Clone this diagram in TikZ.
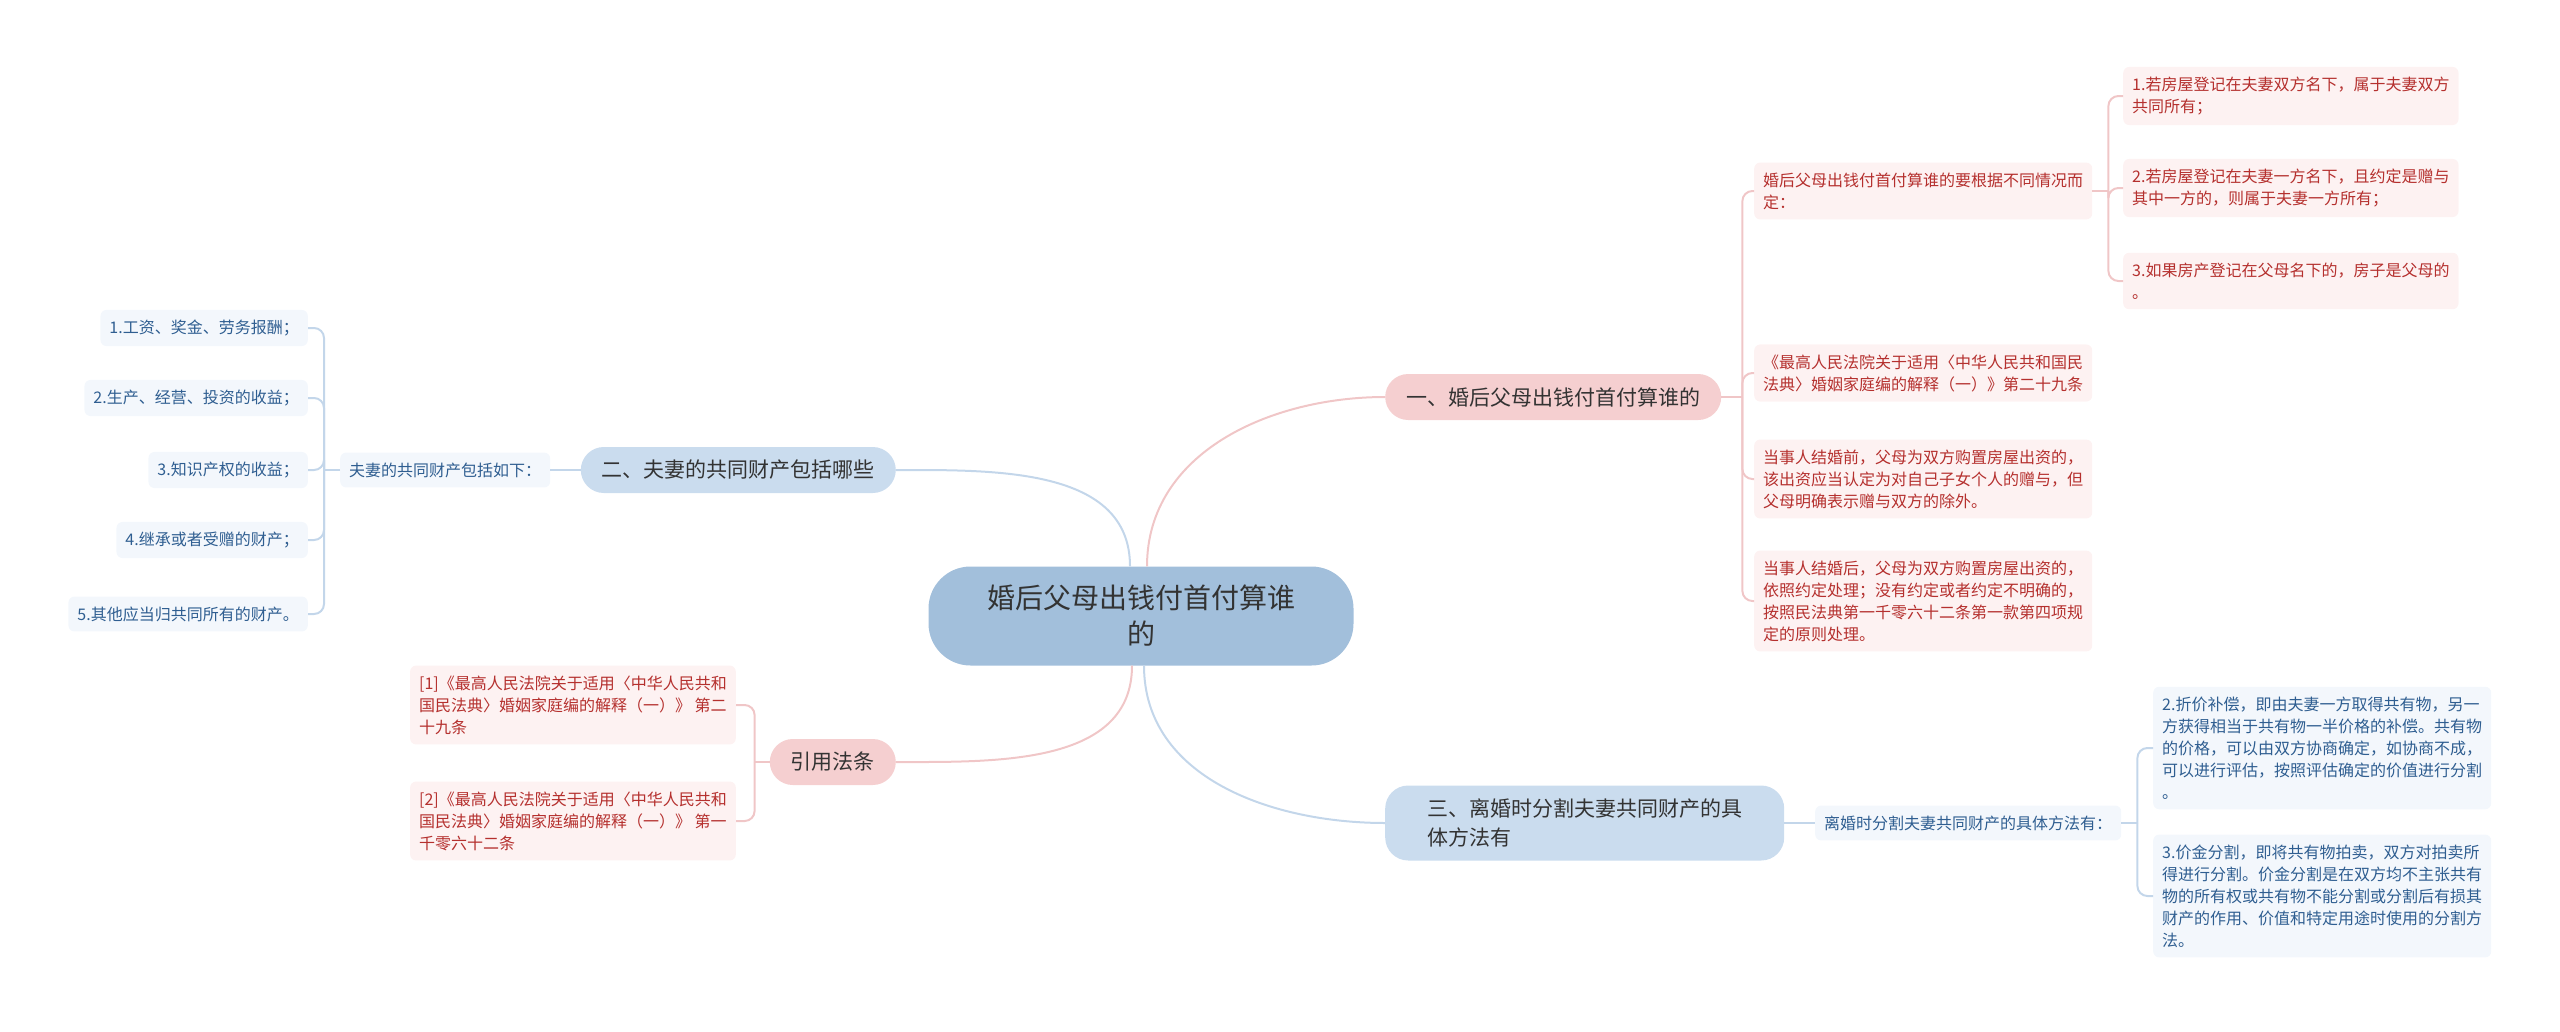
\documentclass[tikz,border=0pt]{standalone}
\usepackage{fontspec}
\setmainfont{Noto Sans CJK SC}
\usetikzlibrary{positioning, calc}
\definecolor{mmRoot}{HTML}{A2BFDB}
\definecolor{mmBlue}{HTML}{CADCEE}
\definecolor{mmPink}{HTML}{F5CFD0}
\definecolor{mmBlueLeaf}{HTML}{F3F7FC}
\definecolor{mmPinkLeaf}{HTML}{FDF2F2}
\definecolor{mmBlueText}{HTML}{2F5E91}
\definecolor{mmPinkText}{HTML}{B5302E}
\definecolor{mmBlueLine}{HTML}{C3D6EA}
\definecolor{mmPinkLine}{HTML}{F0C6C7}
\definecolor{mmInk}{HTML}{333333}
\tikzset{
  mmroot/.style={rounded corners=42pt, fill=mmRoot, text=mmInk, align=center,
    minimum width=425pt, minimum height=99pt, font=\fontsize{28}{36}\selectfont},
  mmbranch/.style={rounded corners=23pt, fill=#1, text=mmInk, align=left,
    inner xsep=21pt, inner ysep=8pt, minimum height=46pt,
    font=\fontsize{21}{29}\selectfont},
  mmleaf/.style={rounded corners=6pt, fill=mm#1Leaf, text=mm#1Text, align=left,
    inner xsep=9pt, inner ysep=10pt, font=\fontsize{16}{22}\selectfont},
  mmedge/.style={line width=2pt, draw=mm#1Line},
  mmfork/.style={line width=2pt, draw=mm#1Line, rounded corners=10pt},
}
\begin{document}
\begin{tikzpicture}[x=1pt, y=1pt]
  \useasboundingbox (0,0) rectangle (2560,-1031);

  % --- Root and main branches ---------------------------------------------
  \node[mmroot] (root) at (1141,-616) {婚后父母出钱付首付算谁\\的};
  \node[mmbranch=mmPink, anchor=west] (b1) at (1385,-397) {一、婚后父母出钱付首付算谁的};
  \node[mmbranch=mmBlue, anchor=east] (b2) at (896,-470) {二、夫妻的共同财产包括哪些};
  \node[mmbranch=mmBlue, anchor=west, inner xsep=42pt, minimum height=75pt]
        (b3) at (1385,-823) {三、离婚时分割夫妻共同财产的具\\体方法有};
  \node[mmbranch=mmPink, anchor=east] (b4) at (896,-762) {引用法条};

  % --- Branch one (right, top) --------------------------------------------
  \node[mmleaf=Pink, anchor=west] (l1a) at (1754,-191)
        {婚后父母出钱付首付算谁的要根据不同情况而\\定：};
  \node[mmleaf=Pink, anchor=west] (l1b) at (1754,-373)
        {《最高人民法院关于适用〈中华人民共和国民\\法典〉婚姻家庭编的解释（一）》第二十九条};
  \node[mmleaf=Pink, anchor=west] (l1c) at (1754,-479)
        {当事人结婚前，父母为双方购置房屋出资的，\\该出资应当认定为对自己子女个人的赠与，但\\父母明确表示赠与双方的除外。};
  \node[mmleaf=Pink, anchor=west] (l1d) at (1754,-601)
        {当事人结婚后，父母为双方购置房屋出资的，\\依照约定处理；没有约定或者约定不明确的，\\按照民法典第一千零六十二条第一款第四项规\\定的原则处理。};

  % cases listed under the first leaf
  \node[mmleaf=Pink, anchor=west] (l3a) at (2123,-96)
        {1.若房屋登记在夫妻双方名下，属于夫妻双方\\共同所有；};
  \node[mmleaf=Pink, anchor=west] (l3b) at (2123,-188)
        {2.若房屋登记在夫妻一方名下，且约定是赠与\\其中一方的，则属于夫妻一方所有；};
  \node[mmleaf=Pink, anchor=west] (l3c) at (2123,-281)
        {3.如果房产登记在父母名下的，房子是父母的\\。};

  % --- Branch two (left, top) ---------------------------------------------
  \node[mmleaf=Blue, anchor=west] (m2) at (340,-470) {夫妻的共同财产包括如下：};
  \node[mmleaf=Blue, anchor=east] (p1) at (308,-328) {1.工资、奖金、劳务报酬；};
  \node[mmleaf=Blue, anchor=east] (p2) at (308,-398) {2.生产、经营、投资的收益；};
  \node[mmleaf=Blue, anchor=east] (p3) at (308,-470) {3.知识产权的收益；};
  \node[mmleaf=Blue, anchor=east] (p4) at (308,-540) {4.继承或者受赠的财产；};
  \node[mmleaf=Blue, anchor=east] (p5) at (308,-614) {5.其他应当归共同所有的财产。};

  % --- Branch three (right, bottom) ---------------------------------------
  \node[mmleaf=Blue, anchor=west] (m3) at (1815,-823) {离婚时分割夫妻共同财产的具体方法有：};
  \node[mmleaf=Blue, anchor=west] (n1) at (2153,-748)
        {2.折价补偿，即由夫妻一方取得共有物，另一\\方获得相当于共有物一半价格的补偿。共有物\\的价格，可以由双方协商确定，如协商不成，\\可以进行评估，按照评估确定的价值进行分割\\。};
  \node[mmleaf=Blue, anchor=west] (n2) at (2153,-896)
        {3.价金分割，即将共有物拍卖，双方对拍卖所\\得进行分割。价金分割是在双方均不主张共有\\物的所有权或共有物不能分割或分割后有损其\\财产的作用、价值和特定用途时使用的分割方\\法。};

  % --- Branch four (left, bottom) -----------------------------------------
  \node[mmleaf=Pink, anchor=east] (r1) at (736,-705)
        {[1]《最高人民法院关于适用〈中华人民共和\\国民法典〉婚姻家庭编的解释（一）》 第二\\十九条};
  \node[mmleaf=Pink, anchor=east] (r2) at (736,-821)
        {[2]《最高人民法院关于适用〈中华人民共和\\国民法典〉婚姻家庭编的解释（一）》 第一\\千零六十二条};

  % --- Root curves ----------------------------------------------------------
  \draw[mmedge=Pink] ([xshift=6pt]root.north) to[out=90,in=180] (b1.west);
  \draw[mmedge=Blue] ([xshift=-11pt]root.north) to[out=90,in=0] (b2.east);
  \draw[mmedge=Blue] ([xshift=3pt]root.south) to[out=-90,in=180] (b3.west);
  \draw[mmedge=Pink] ([xshift=-9pt]root.south) to[out=-90,in=0] (b4.east);

  % --- Forks ----------------------------------------------------------------
  \draw[mmedge=Pink] (b1.east) -- ++(21,0) coordinate (f1);
  \draw[mmfork=Pink] (f1) |- (l1a.west);
  \draw[mmfork=Pink] (f1) |- (l1b.west);
  \draw[mmfork=Pink] (f1) |- (l1c.west);
  \draw[mmfork=Pink] (f1) |- (l1d.west);

  \draw[mmedge=Pink] (l1a.east) -- ++(16,0) coordinate (f3);
  \draw[mmfork=Pink] (f3) |- (l3a.west);
  \draw[mmfork=Pink] (f3) |- (l3b.west);
  \draw[mmfork=Pink] (f3) |- (l3c.west);

  \draw[mmedge=Blue] (b2.west) -- (m2.east);
  \draw[mmedge=Blue] (m2.west) -- ++(-16,0) coordinate (f2);
  \draw[mmfork=Blue] (f2) |- (p1.east);
  \draw[mmfork=Blue] (f2) |- (p2.east);
  \draw[mmfork=Blue] (f2) |- (p3.east);
  \draw[mmfork=Blue] (f2) |- (p4.east);
  \draw[mmfork=Blue] (f2) |- (p5.east);

  \draw[mmedge=Blue] (b3.east) -- (m3.west);
  \draw[mmedge=Blue] (m3.east) -- ++(16,0) coordinate (f5);
  \draw[mmfork=Blue] (f5) |- (n1.west);
  \draw[mmfork=Blue] (f5) |- (n2.west);

  \draw[mmedge=Pink] (b4.west) -- ++(-15,0) coordinate (f4);
  \draw[mmfork=Pink] (f4) |- (r1.east);
  \draw[mmfork=Pink] (f4) |- (r2.east);

\end{tikzpicture}
\end{document}
